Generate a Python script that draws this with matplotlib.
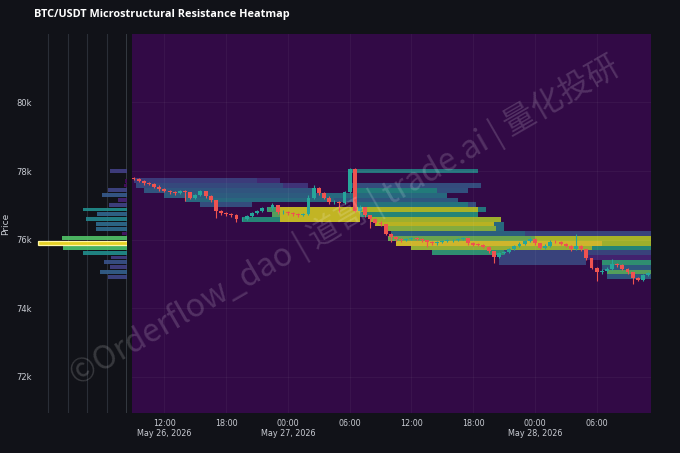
import numpy as np
import matplotlib
matplotlib.use('Agg')
import matplotlib.pyplot as plt

BG = '#111218'
PLOT_BG = '#320a46'
TXT = '#c9ccd3'
UP = '#26a69a'
DOWN = '#ef5350'
HEAT_ALPHA = 0.78

# price bins (USD), 140 wide
bin_centers = [74920 + 140 * i for i in range(23)]
bin_edges = [74850 + 140 * i for i in range(24)]

# volume profile per bin (arbitrary units), bottom -> top
profile = [0.96, 1.37, 0.87, 1.16, 0.82, 2.22, 3.21, 4.5, 3.27, 0.26, 1.57, 1.59,
           2.07, 1.5, 2.22, 0.9, 0.48, 1.28, 0.94, 0.15, 0.1, 0.0, 0.86]

# 30 min candles, hours since May 26 00:00, first at 09:00
first_open = 77800
closes = [77770, 77700, 77640, 77630, 77550, 77470, 77420, 77380, 77350, 77410,
          77380, 77230, 77290, 77410, 77260, 77150, 76830, 76770, 76750, 76710,
          76590, 76610, 76680, 76770, 76830, 76910, 76910, 77000, 76800, 76810,
          76770, 76750, 76710, 76740, 77230, 77520, 77350, 77230, 77090, 77100,
          77060, 77380, 78050, 76850, 76940, 76710, 76590, 76500, 76450, 76180,
          76070, 76010, 75980, 76020, 76050, 76020, 75980, 75920, 75890, 75920,
          75950, 75980, 75980, 76020, 76040, 75890, 75860, 75850, 75800, 75660,
          75510, 75600, 75640, 75730, 75820, 75880, 75970, 76020, 75890, 75760,
          75830, 75940, 75930, 75880, 75830, 75720, 75830, 75720, 75460, 75190,
          75050, 75100, 75160, 75300, 75250, 75160, 75050, 74870, 74840, 74970,
          75030]
highs = [77830, 77800, 77730, 77690, 77660, 77580, 77510, 77460, 77420, 77450,
         77440, 77400, 77340, 77450, 77430, 77300, 77170, 76860, 76810, 76790,
         76740, 76660, 76720, 76800, 76870, 76950, 76960, 77060, 77020, 76860,
         76840, 76800, 76780, 76790, 77290, 77580, 77540, 77380, 77260, 77150,
         77130, 77420, 78100, 78080, 77000, 76960, 76730, 76620, 76540, 76470,
         76200, 76100, 76050, 76060, 76090, 76080, 76050, 76000, 75950, 75960,
         75990, 76010, 76020, 76060, 76080, 76060, 75920, 75900, 75880, 75820,
         75680, 75640, 75680, 75760, 75850, 75920, 76000, 76080, 76040, 75910,
         75870, 75980, 75980, 75960, 75910, 75850, 76180, 75860, 75740, 75480,
         75210, 75150, 75200, 75450, 75330, 75280, 75180, 75070, 74900, 75000,
         75070]
lows = [77740, 77670, 77600, 77590, 77520, 77430, 77380, 77340, 77300, 77320,
        77130, 77190, 77200, 77260, 77220, 77100, 76630, 76720, 76700, 76660,
        76510, 76550, 76580, 76650, 76740, 76800, 76860, 76880, 76760, 76760,
        76730, 76700, 76660, 76680, 76720, 77200, 77300, 77190, 77040, 77050,
        76800, 77030, 77350, 76800, 76810, 76660, 76330, 76450, 76400, 76140,
        75940, 75960, 75930, 75950, 75990, 75980, 75940, 75780, 75850, 75860,
        75890, 75920, 75940, 75950, 75990, 75850, 75820, 75810, 75760, 75620,
        75320, 75470, 75570, 75610, 75700, 75790, 75850, 75940, 75850, 75720,
        75730, 75800, 75890, 75840, 75790, 75680, 75690, 75680, 75420, 75150,
        74810, 75010, 75060, 75130, 75210, 75120, 75000, 74720, 74790, 74810,
        74940]

# resistance zones: (bin_lo, bin_hi, start_h, end_h, intensity 0..1)
zones = [
    (20, 20, 8.9, 21.1, 0.22), (20, 20, 21.1, 23.2, 0.14),
    (19, 19, 9.3, 23.5, 0.28), (19, 19, 23.5, 26.0, 0.18),
    (18, 18, 10.0, 26.5, 0.34), (17, 17, 12.0, 27.0, 0.38),
    (16, 16, 14.0, 28.5, 0.44), (15, 15, 15.5, 20.5, 0.30),
    (12, 12, 19.5, 23.4, 0.60), (14, 14, 22.0, 23.2, 0.70),
    (13, 13, 22.5, 23.4, 0.75), (12, 14, 23.3, 31.0, 0.97),
    (14, 14, 31.0, 42.5, 0.92), (14, 14, 42.5, 43.2, 0.50),
    (13, 13, 31.0, 42.5, 0.60),
    (22, 22, 30.2, 42.4, 0.50), (19, 19, 30.0, 42.8, 0.30),
    (18, 18, 30.5, 38.5, 0.55), (18, 18, 38.5, 41.5, 0.32),
    (17, 17, 27.0, 39.5, 0.45), (16, 16, 28.5, 40.5, 0.35),
    (15, 15, 30.5, 41.5, 0.50), (15, 15, 41.5, 42.3, 0.30),
    (12, 12, 32.0, 44.8, 0.90), (11, 11, 32.5, 44.0, 0.95),
    (10, 10, 33.5, 44.2, 0.85), (10, 11, 44.0, 45.0, 0.45),
    (9, 9, 34.0, 47.0, 0.40), (9, 9, 47.0, 59.5, 0.25),
    (8, 8, 33.8, 48.0, 0.80), (8, 8, 48.0, 59.5, 0.92),
    (7, 7, 34.5, 54.5, 1.00), (7, 7, 54.5, 59.5, 0.90),
    (6, 6, 36.0, 53.5, 0.88), (6, 6, 53.5, 59.5, 0.60),
    (5, 5, 38.0, 45.0, 0.65), (5, 5, 45.0, 59.5, 0.25),
    (3, 4, 44.5, 53.0, 0.25), (4, 4, 53.0, 59.5, 0.12),
    (3, 3, 54.5, 59.5, 0.65), (2, 2, 54.5, 59.5, 0.35),
    (1, 1, 55.0, 59.5, 0.75), (0, 0, 55.0, 59.5, 0.35),
]

x_ticks = [12, 18, 24, 30, 36, 42, 48, 54]
x_labels = ['12:00\nMay 26, 2026', '18:00', '00:00\nMay 27, 2026', '06:00',
            '12:00', '18:00', '00:00\nMay 28, 2026', '06:00']
y_ticks = [72000, 74000, 76000, 78000, 80000]
y_labels = ['72k', '74k', '76k', '78k', '80k']
y_range = (70950, 81995)
x_range = (8.85, 59.3)

cmap = plt.get_cmap('viridis')

fig = plt.figure(figsize=(6.8, 4.53), dpi=100, facecolor=BG)
ax0 = fig.add_axes([36 / 680, 1 - 413 / 453, 91 / 680, 379 / 453], facecolor=BG)
ax = fig.add_axes([132 / 680, 1 - 413 / 453, 519.2 / 680, 379 / 453], facecolor=PLOT_BG)

# volume profile
prof = np.array(profile)
ax0.barh(bin_centers, prof, height=112, color=cmap(prof / prof.max()), alpha=0.9,
         linewidth=0, zorder=3)
imax = int(prof.argmax())
ax0.barh(bin_centers[imax], prof[imax], height=112, color='none',
         edgecolor='#fff6a8', linewidth=0.9, zorder=4)
ax0.set_xlim(4.6, 0)
ax0.set_ylim(*y_range)
ax0.set_xticks([1, 2, 3, 4])
ax0.set_xticklabels([])
ax0.grid(axis='x', color='#2a2e37', linewidth=0.8)
ax0.axvline(0, color='#3a4048', linewidth=1.2, zorder=2)
ax0.set_yticks(y_ticks)
ax0.set_yticklabels(y_labels)
ax0.tick_params(length=0, pad=3, labelsize=6, colors=TXT)
for s in ax0.spines.values():
    s.set_visible(False)

# heatmap
t_edges = np.arange(8.75, 59.51, 0.25)
t_mid = (t_edges[:-1] + t_edges[1:]) / 2
heat = np.zeros((len(bin_centers), len(t_mid)))
for lo, hi, t0, t1, lvl in zones:
    cols = (t_mid >= t0) & (t_mid < t1)
    heat[lo:hi + 1, cols] = np.maximum(heat[lo:hi + 1, cols], lvl)
ax.pcolormesh(t_edges, bin_edges, np.ma.masked_equal(heat, 0), cmap=cmap, vmin=0, vmax=1,
              alpha=HEAT_ALPHA, shading='flat', edgecolors='none', antialiased=False, zorder=1)

# candles
c = np.array(closes, dtype=float)
o = np.array([first_open] + closes[:-1], dtype=float)
t_c = 9.0 + 0.5 * np.arange(len(c))
cols = np.where(c >= o, UP, DOWN)
ax.vlines(t_c, lows, highs, colors=cols, linewidth=0.8, zorder=3)
ax.bar(t_c, np.maximum(np.abs(c - o), 12), bottom=np.minimum(o, c), width=0.38,
       color=cols, linewidth=0, zorder=4)

ax.set_xlim(*x_range)
ax.set_ylim(*y_range)
ax.set_xticks(x_ticks)
ax.set_xticklabels(x_labels)
ax.set_yticks(y_ticks)
ax.tick_params(axis='y', labelleft=False, length=0)
ax.tick_params(axis='x', length=0, pad=4, labelsize=5.8, colors=TXT)
ax.set_axisbelow('line')
ax.grid(color='white', alpha=0.05, linewidth=0.6)
for s in ax.spines.values():
    s.set_visible(False)

fig.text(34 / 680, 1 - 14 / 453, 'BTC/USDT Microstructural Resistance Heatmap',
         color='white', fontsize=7.8, fontweight='bold', family='Open Sans',
         ha='left', va='center')
fig.text(6 / 680, 1 - 224 / 453, 'Price', rotation=90, color=TXT, fontsize=6.5,
         ha='center', va='center')
fig.text(345 / 680, 1 - 221 / 453, '©Orderflow_dao | 道哥 | trade.ai | 量化投研',
         rotation=30, ha='center', va='center', fontsize=23, color='white', alpha=0.16,
         family=['Noto Sans CJK SC', 'DejaVu Sans'], rotation_mode='anchor')

fig.savefig('out.png', dpi=100, facecolor=BG)
